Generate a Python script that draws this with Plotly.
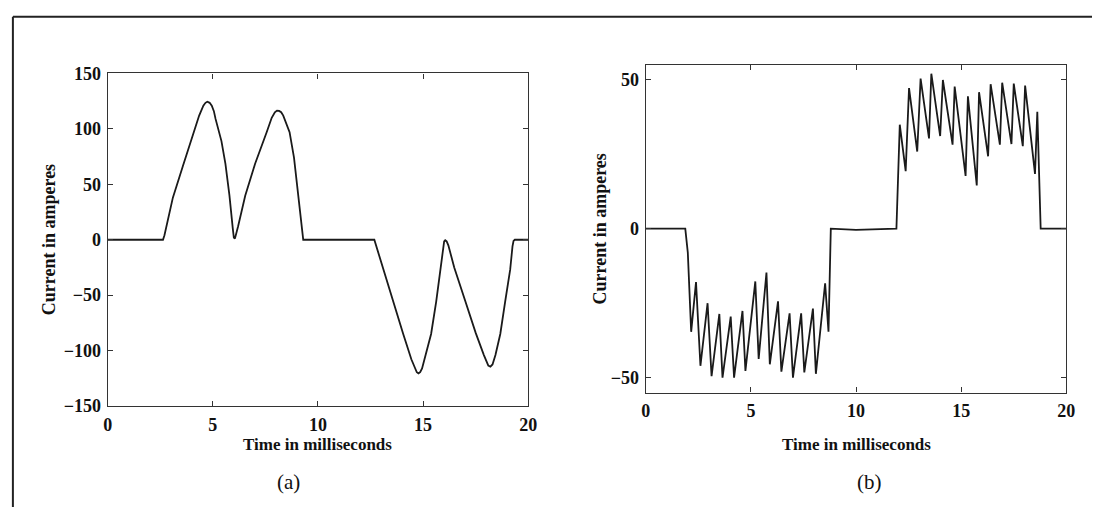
import plotly.graph_objects as go

# ---- data: panel (a) ----
t_a = [0, 2.63, 2.7, 2.8, 3.1, 3.57, 4.1, 4.35, 4.55, 4.65, 4.74, 4.85, 4.95, 5.05, 5.13,
       5.41, 5.6, 5.79, 5.95, 6.0, 6.05, 6.1, 6.2, 6.54, 7.01, 7.56, 7.8, 7.95, 8.05, 8.15,
       8.25, 8.35, 8.5, 8.65, 8.86, 9.05, 9.2, 9.26, 9.3,
       12.68, 13.11, 13.58, 14.05, 14.44, 14.6, 14.7, 14.78, 14.86, 14.95, 15.07, 15.38,
       15.62, 15.82, 15.95, 16.0, 16.05, 16.12, 16.2, 16.3, 16.48, 17.0, 17.5, 17.89,
       18.0, 18.1, 18.2, 18.3, 18.44, 18.67, 18.9, 19.14, 19.25, 19.3, 19.36, 20]
i_a = [0, 0, 4, 12, 38, 66, 96, 112, 121, 123.5, 124.5, 123.5, 121, 116, 109,
       89, 68.5, 40, 10, 2, 1, 4, 12, 39.6, 68.5, 97, 110, 115, 116.5, 116.2,
       115, 112, 105, 97, 74, 39.6, 12, 2, 0,
       0, -27, -56, -84.7, -107.8, -116, -119.5, -120.5, -119.5, -116, -108, -85,
       -56, -27, -6, -1.5, -0.5, -1.5, -5, -12, -25, -55, -84, -104,
       -110, -113.5, -114.5, -112.5, -104, -85, -56, -27, -6, -1, 0, 0]

# ---- data: panel (b) ----
t_b = [0, 1.88, 2.0, 2.16, 2.39, 2.6, 2.94, 3.13, 3.5, 3.65, 4.04, 4.2, 4.6, 4.74,
       5.21, 5.37, 5.74, 5.9, 6.29, 6.45, 6.84, 7.0, 7.39, 7.54, 7.95, 8.09, 8.53,
       8.69, 8.8, 10.0, 11.92, 12.08, 12.36, 12.52, 12.91, 13.07, 13.47, 13.58, 14.0,
       14.13, 14.59, 14.69, 15.21, 15.32, 15.74, 15.85, 16.28, 16.4, 16.84, 16.95,
       17.39, 17.5, 17.93, 18.04, 18.51, 18.62, 18.78, 20]
i_b = [0, 0, -8, -34.6, -17.9, -46, -25, -49.5, -28.6, -50, -29.5, -50, -27.6, -47.7,
       -17.7, -43.7, -14.7, -45.5, -24.4, -48, -28.4, -50, -28.4, -48.2, -26.8, -48.7, -18.3,
       -34.6, 0, -0.4, 0, 34.9, 19.3, 47.2, 25.9, 50.4, 30.3, 52, 31.1,
       49.9, 28.2, 47.7, 17.7, 44.4, 14.5, 45.8, 24.3, 48.5, 28.2, 49,
       28.4, 48.7, 27.7, 48, 18.4, 39.2, 0, 0]

x_ticks = [0, 5, 10, 15, 20]
ya_ticks = [-150, -100, -50, 0, 50, 100, 150]
yb_ticks = [-50, 0, 50]

W, H = 1101, 517
FONT = "Liberation Serif"
INK = "#111111"

def px(x):
    return x / W

def py(y):
    return 1 - y / H

fig = go.Figure()
fig.add_trace(go.Scatter(x=t_a, y=i_a, mode="lines", xaxis="x", yaxis="y",
                         line=dict(color="#1a1a1a", width=1.8),
                         showlegend=False, hoverinfo="skip"))
fig.add_trace(go.Scatter(x=t_b, y=i_b, mode="lines", xaxis="x2", yaxis="y2",
                         line=dict(color="#1a1a1a", width=1.8),
                         showlegend=False, hoverinfo="skip"))

ax_common = dict(showline=True, linecolor="#333333", linewidth=1.3, mirror="ticks",
                 ticks="inside", ticklen=5, tickwidth=1.2, tickcolor="#333333",
                 showgrid=False, zeroline=False, ticklabelstandoff=2,
                 tickfont=dict(family=FONT, size=18, color=INK, weight="bold"))

fig.update_layout(
    width=W, height=H,
    margin=dict(l=0, r=0, t=0, b=0),
    paper_bgcolor="white", plot_bgcolor="white",
    xaxis=dict(domain=[px(104), px(530)], range=[0, 20], tickvals=x_ticks, anchor="y", **ax_common),
    yaxis=dict(domain=[py(412), py(66)], range=[-150, 150], tickvals=ya_ticks, anchor="x", **ax_common),
    xaxis2=dict(domain=[px(649), px(1075)], range=[0, 20], tickvals=x_ticks, anchor="y2", **ax_common),
    yaxis2=dict(domain=[py(398), py(57)], range=[-55, 55], tickvals=yb_ticks, anchor="x2", **ax_common),
)

title_font = dict(family=FONT, size=17, color=INK, weight="bold")
ylab_font = dict(family=FONT, size=18, color=INK, weight="bold")
ann = [
    dict(text="Time in milliseconds", x=px(317), y=py(452), font=title_font),
    dict(text="Time in milliseconds", x=px(862), y=py(452), font=title_font),
    dict(text="Current in amperes", x=px(44), y=py(239), font=ylab_font, textangle=-90),
    dict(text="Current in amperes", x=px(603), y=py(228), font=ylab_font, textangle=-90),
    dict(text="(a)", x=px(287), y=py(491), font=dict(family=FONT, size=21, color=INK)),
    dict(text="(b)", x=px(876), y=py(491), font=dict(family=FONT, size=21, color=INK)),
]
for a in ann:
    fig.add_annotation(xref="paper", yref="paper", showarrow=False,
                       xanchor="center", yanchor="middle", **a)

# outer frame (top and left edges)
fig.add_shape(type="line", xref="paper", yref="paper", x0=px(8), x1=1, y0=py(7), y1=py(7),
              line=dict(color="#222222", width=2))
fig.add_shape(type="line", xref="paper", yref="paper", x0=px(8), x1=px(8), y0=0, y1=py(7),
              line=dict(color="#222222", width=2))

fig.write_html("out.html")
